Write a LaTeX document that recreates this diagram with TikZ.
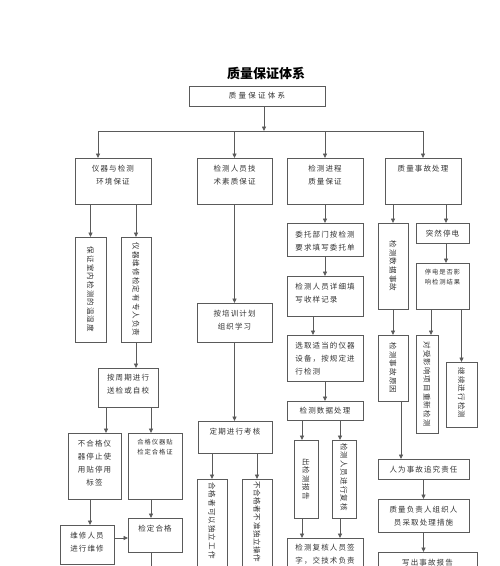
\documentclass[tikz,border=0pt]{standalone}
\usepackage{fontspec}
\newfontfamily\cjk[LetterSpace=15]{Noto Sans CJK SC}
\usetikzlibrary{arrows.meta}
\definecolor{linegray}{HTML}{5A5A5A}
\definecolor{textgray}{HTML}{333333}
\tikzset{
 box/.style={draw=linegray, line width=0.8pt, inner sep=0pt, outer sep=0pt},
 txt/.style={font=\cjk\fontsize{7.5}{13.3}\selectfont, text=textgray, align=center, inner sep=0pt},
 smalltxt/.style={font=\cjk\fontsize{6.3}{10}\selectfont},
 arr/.style={draw=linegray, line width=0.8pt, -{Triangle[length=4.5pt,width=4pt]}},
 conn/.style={draw=linegray, line width=0.8pt},
}
% #1 text style, #2 name, #3 x1, #4 y1, #5 x2, #6 y2, #7 first line centre y, #8 text
\newcommand\mkbox[8]{%
 \node[box,minimum width={(#5-#3)*1pt},minimum height={(#6-#4)*1pt}] (#2) at ({(#3+#5)/2},{(#4+#6)/2}) {};
 \node[txt,#1,anchor=north] (#2t) at ({(#3+#5)/2},{#7-3.5}) {#8};}
% vertical text box: #1 text opts, #2 name, #3 x1, #4 y1, #5 x2, #6 y2, #7 text y, #8 text
\newcommand\mkvbox[8]{%
 \node[box,minimum width={(#5-#3)*1pt},minimum height={(#6-#4)*1pt}] (#2) at ({(#3+#5)/2},{(#4+#6)/2}) {};
 \node[txt,rotate=-90,#1] (#2t) at ({(#3+#5)/2},{#7}) {#8};}
\begin{document}
\begin{tikzpicture}[x=1pt,y=-1pt]
\useasboundingbox (0,0) rectangle (500,566);
\fill[white] (0,0) rectangle (500,566);
\clip (0,0) rectangle (500,566);

\node[font=\cjk\addfontfeature{LetterSpace=0}\bfseries\fontsize{13}{15}\selectfont, text=black, inner sep=0pt] (title) at (266,73) {质量保证体系};

\mkbox{}{T}{189}{86}{325}{106}{96}{\addfontfeature{LetterSpace=30}质量保证体系}

\mkbox{}{A}{75}{158}{151}{204}{168}{仪器与检测\\环境保证}
\mkbox{}{B}{197}{158}{272}{204}{168}{检测人员技\\术素质保证}
\mkbox{}{C}{287}{158}{363}{204}{168}{检测进程\\质量保证}
\mkbox{}{D}{385}{158}{461}{204}{168}{质量事故处理}

% column A
\mkvbox{}{A1}{75}{237}{106}{342}{289.5}{保证室内检测的温湿度}
\mkvbox{}{A2}{121}{237}{151}{342}{289.5}{仪器维修检定有专人负责}
\mkbox{}{A3}{98}{368}{158}{407}{377}{按周期进行\\送检或自校}
\mkbox{}{A4}{68}{433}{121}{499}{443}{不合格仪\\器停止使\\用贴停用\\标签}
\mkbox{smalltxt}{A5}{128}{433}{182}{499}{442}{合格仪器贴\\检定合格证}
\mkbox{}{A6}{60}{525}{114}{564}{535}{维修人员\\进行维修}
\mkbox{}{A7}{128}{518}{182}{552}{528}{检定合格}

% column B
\mkbox{}{B1}{197}{303}{272}{342}{313}{按培训计划\\组织学习}
\mkbox{}{B2}{198}{421}{272}{453}{431}{定期进行考核}
\mkvbox{anchor=west}{B3}{197}{479}{227}{590}{482}{合格者可以独立工作}
\mkvbox{anchor=west}{B4}{242}{479}{272}{590}{481}{\addfontfeature{LetterSpace=9}不合格者不准独立操作}

% column C
\mkbox{}{C1}{287}{223}{363}{256}{234}{委托部门按检测\\要求填写委托单}
\mkbox{align=left}{C2}{287}{276}{363}{316}{286}{检测人员详细填\\写收样记录}
\mkbox{align=left}{C3}{287}{335}{363}{381}{345}{选取适当的仪器\\设备，按规定进\\行检测}
\mkbox{}{C4}{287}{401}{363}{420}{410.5}{检测数据处理}
\mkvbox{}{C5}{294}{440}{318}{518}{479}{出检测报告}
\mkvbox{}{C6}{332}{440}{356}{518}{477}{检测人员进行复核}
\mkbox{}{C7}{287}{538}{363}{600}{547}{检测复核人员签\\字，交技术负责}

% column D
\mkvbox{}{D1}{378}{223}{408}{309}{266}{检测数据事故}
\mkbox{}{D2}{416}{223}{469}{243}{233}{突然停电}
\mkbox{smalltxt}{D3}{416}{263}{469}{309}{272}{停电是否影\\响检测结果}
\mkvbox{}{D4}{378}{335}{408}{401}{368}{检测事故原因}
\mkvbox{}{D5}{416}{335}{438}{433}{384}{对受影响项目重新检测}
\mkvbox{}{D6}{446}{362}{477}{427}{393}{继续进行检测}
\mkbox{}{D7}{378}{459}{469}{479}{469}{人为事故追究责任}
\mkbox{}{D8}{378}{499}{469}{532}{509}{质量负责人组织人\\员采取处理措施}
\mkbox{}{D9}{378}{552}{477}{600}{562}{写出事故报告}

% connectors
\coordinate (busL) at (98,131);
\coordinate (busR) at (423,131);
\draw[conn] (busL) -- (busR);
\draw[arr] ([xshift=7pt]T.south) -- ([xshift=7pt]T.south |- busL);
\draw[arr] (busL) -- (busL |- A.north);
\draw[arr] (B.north |- busL) -- (B.north);
\draw[arr] (C.north |- busL) -- (C.north);
\draw[arr] (busR) -- (D.north);

\draw[arr] (A.south -| A1.north) -- (A1.north);
\draw[arr] (A.south -| A2.north) -- (A2.north);
\draw[arr] (A2.south) -- (A2.south |- A3.north);
\draw[arr] ([xshift=11.5pt]A4.north |- A3.south) -- ([xshift=11.5pt]A4.north);
\draw[arr] ([xshift=-4pt]A5.north |- A3.south) -- ([xshift=-4pt]A5.north);
\draw[arr] ([xshift=-4.5pt]A4.south) -- ([xshift=-4.5pt]A4.south |- A6.north);
\draw[arr] ([xshift=-4pt]A5.south) -- ([xshift=-4pt]A7.north);
\draw[arr] ([yshift=6.5pt]A6.east) -- ([yshift=6.5pt]A6.east -| A7.west);
\coordinate (A7end) at (151,570);
\draw[conn] ([xshift=-4pt]A7.south) -- (A7end);

\draw[arr] (B.south) -- (B1.north);
\draw[arr] (B1.south) -- (B1.south |- B2.north);
\draw[arr] (B2.south -| B3.north) -- (B3.north);
\draw[arr] (B2.south -| B4.north) -- (B4.north);

\draw[arr] (C.south) -- (C1.north);
\draw[arr] (C1.south) -- (C2.north);
\draw[arr] ([xshift=-12pt]C2.south) -- ([xshift=-12pt]C3.north);
\draw[arr] (C3.south) -- (C4.north);
\draw[arr] ([xshift=-4pt]C5.north |- C4.south) -- ([xshift=-4pt]C5.north);
\draw[arr] ([xshift=-4pt]C6.north |- C4.south) -- ([xshift=-4pt]C6.north);
\draw[arr] ([xshift=-4pt]C5.south) -- ([xshift=-4pt]C5.south |- C7.north);
\draw[arr] ([xshift=-4pt]C6.south) -- ([xshift=-4pt]C6.south |- C7.north);

\draw[arr] (D.south -| D1.north) -- (D1.north);
\draw[arr] ([xshift=3.5pt]D2.north |- D.south) -- ([xshift=3.5pt]D2.north);
\draw[arr] ([xshift=3.5pt]D2.south) -- ([xshift=3.5pt]D3.north);
\draw[arr] (D1.south) -- (D4.north);
\draw[arr] ([xshift=4pt]D5.north |- D3.south) -- ([xshift=4pt]D5.north);
\draw[arr] (D3.south -| D6.north) -- (D6.north);
\draw[arr] ([xshift=8pt]D4.south) -- ([xshift=8pt]D4.south |- D7.north);
\draw[arr] (D7.south) -- (D8.north);
\draw[arr] (D8.south) -- (D8.south |- D9.north);
\end{tikzpicture}
\end{document}
